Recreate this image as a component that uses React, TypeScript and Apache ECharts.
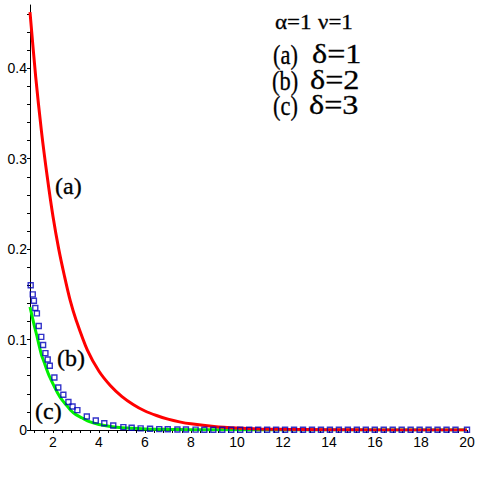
import React, { useEffect, useRef } from "react";
import * as echarts from "echarts";

// (a) delta=1, red curve
const redX = [1, 1.25, 1.5, 1.75, 2, 2.25, 2.5, 2.75, 3, 3.5, 4, 4.5, 5, 5.5, 6, 6.5, 7, 7.5, 8, 9, 10, 11, 12, 14, 16, 20];
const redY = [0.462, 0.39, 0.33, 0.28, 0.236, 0.2, 0.17, 0.143, 0.122, 0.088, 0.065, 0.049, 0.037, 0.028, 0.021, 0.016, 0.012, 0.009, 0.0068, 0.0039, 0.0022, 0.0012, 0.0007, 0.0003, 0.0001, 0];

// (c) delta=3, green curve
const greenX = [1, 1.1, 1.2, 1.3, 1.4, 1.5, 1.6, 1.8, 2, 2.2, 2.4, 2.6, 2.8, 3, 3.25, 3.5, 3.75, 4, 4.5, 5, 6, 7, 8, 10, 12, 20];
const greenY = [0.136, 0.125, 0.114, 0.104, 0.093, 0.083, 0.076, 0.062, 0.051, 0.041, 0.033, 0.027, 0.021, 0.017, 0.0135, 0.0102, 0.0078, 0.006, 0.0038, 0.0024, 0.0012, 0.0007, 0.0004, 0.0002, 0.0001, 0];

// (b) delta=2, blue squares
const blueX = [1.03, 1.12, 1.17, 1.23, 1.3, 1.38, 1.49, 1.57, 1.67, 1.77, 1.86, 2.06, 2.23, 2.45, 2.67, 2.85, 3.06, 3.47, 3.86, 4.23, 4.62, 5.06, 5.42, 5.81, 6.22, 6.62, 6.99, 7.41, 7.78, 8.2, 8.58, 8.97, 9.36, 9.75, 10.14, 10.53, 10.92, 11.31, 11.7, 12.09, 12.48, 12.87, 13.26, 13.65, 14.04, 14.43, 14.82, 15.21, 15.6, 15.99, 16.38, 16.77, 17.16, 17.55, 17.94, 18.33, 18.72, 19.11, 19.5, 20];
const blueY = [0.16, 0.15, 0.143, 0.135, 0.129, 0.115, 0.103, 0.094, 0.085, 0.078, 0.071, 0.058, 0.047, 0.039, 0.031, 0.026, 0.022, 0.015, 0.0105, 0.0074, 0.005, 0.0032, 0.0025, 0.0018, 0.0013, 0.001, 0.0008, 0.0006, 0.0005, 0.0004, 0.0003, 0.0002, 0.0002, 0.0002, 0.0002, 0.0002, 0.0002, 0.0002, 0.0002, 0.0002, 0.0002, 0.0002, 0.0002, 0.0002, 0.0002, 0.0002, 0.0002, 0.0002, 0.0002, 0.0002, 0.0002, 0.0002, 0.0002, 0.0002, 0.0002, 0.0002, 0.0002, 0.0002, 0.0002, 0.0002];

const xLabels = [2, 4, 6, 8, 10, 12, 14, 16, 18, 20];
const yLabels = [0, 0.1, 0.2, 0.3, 0.4];
const xTicks = Array.from({ length: 48 }, (_, i) => +(1.2 + 0.4 * i).toFixed(1));
const yTicks = Array.from({ length: 24 }, (_, i) => +(0.02 * i).toFixed(2));

const zip = (xs: number[], ys: number[]) => xs.map((x, i) => [x, ys[i]]);

const SERIF = '"Liberation Serif", "Times New Roman", serif';
const SANS = '"Liberation Sans", Arial, sans-serif';

function txt(text: string, x: number, y: number, size: number, scaleX = 1) {
  return {
    type: "text",
    x,
    y,
    scaleX,
    silent: true,
    style: {
      text,
      x: 0,
      y: 0,
      fill: "#000",
      font: `${size}px ${SERIF}`,
      textAlign: "left",
      textVerticalAlign: "middle",
      stroke: "#000",
      lineWidth: 0.3,
    },
  };
}

export default function App() {
  const ref = useRef<HTMLDivElement>(null);
  useEffect(() => {
    if (!ref.current) return;
    const chart = echarts.init(ref.current, null, { renderer: "svg" });
    chart.setOption({
      animation: false,
      backgroundColor: "#fff",
      grid: { left: 30, right: 16, top: 5, bottom: 53, containLabel: false, outerBoundsMode: "none" },
      xAxis: {
        type: "value",
        min: 1,
        max: 20,
        axisLine: { show: true, onZero: false, lineStyle: { color: "#000", width: 1 } },
        axisTick: { show: true, customValues: xTicks, length: 3, lineStyle: { color: "#000" } },
        axisLabel: { customValues: xLabels, color: "#000", fontFamily: SANS, fontSize: 14, margin: 5 },
        splitLine: { show: false },
      },
      yAxis: {
        type: "value",
        min: 0,
        max: 0.47,
        axisLine: { show: true, onZero: false, lineStyle: { color: "#000", width: 1 } },
        axisTick: { show: true, customValues: yTicks, length: 3, lineStyle: { color: "#000" } },
        axisLabel: { customValues: yLabels, color: "#000", fontFamily: SANS, fontSize: 14, margin: 3 },
        splitLine: { show: false },
      },
      series: [
        {
          type: "line",
          data: zip(greenX, greenY),
          smooth: 0.3,
          showSymbol: false,
          lineStyle: { color: "#00f000", width: 3 },
          z: 3,
        },
        {
          type: "line",
          data: zip(redX, redY),
          smooth: 0.3,
          showSymbol: false,
          lineStyle: { color: "#ff0000", width: 3 },
          z: 4,
        },
        {
          type: "scatter",
          data: zip(blueX, blueY),
          symbol: "rect",
          symbolSize: 5,
          itemStyle: { color: "rgba(0,0,0,0)", borderColor: "#0000bb", borderWidth: 1.4 },
          z: 5,
        },
      ],
      graphic: [
        txt("(a)", 55, 186, 24),
        txt("(b)", 57, 358, 24),
        txt("(c)", 35, 411, 24),
        txt("α=1", 275, 23, 20, 1.15),
        txt("ν=1", 318, 23, 20, 1.15),
        txt("(a)", 273, 54, 28, 0.8),
        txt("δ=1", 312, 54, 28, 1.15),
        txt("(b)", 272, 80, 28, 0.8),
        txt("δ=2", 310, 80, 28, 1.15),
        txt("(c)", 273, 105, 28, 0.8),
        txt("δ=3", 309, 105, 28, 1.15),
      ],
    });
    return () => chart.dispose();
  }, []);
  return (
    <div
      ref={ref}
      style={{ position: "fixed", left: 0, top: 0, width: 483, height: 483, background: "#fff" }}
    />
  );
}
